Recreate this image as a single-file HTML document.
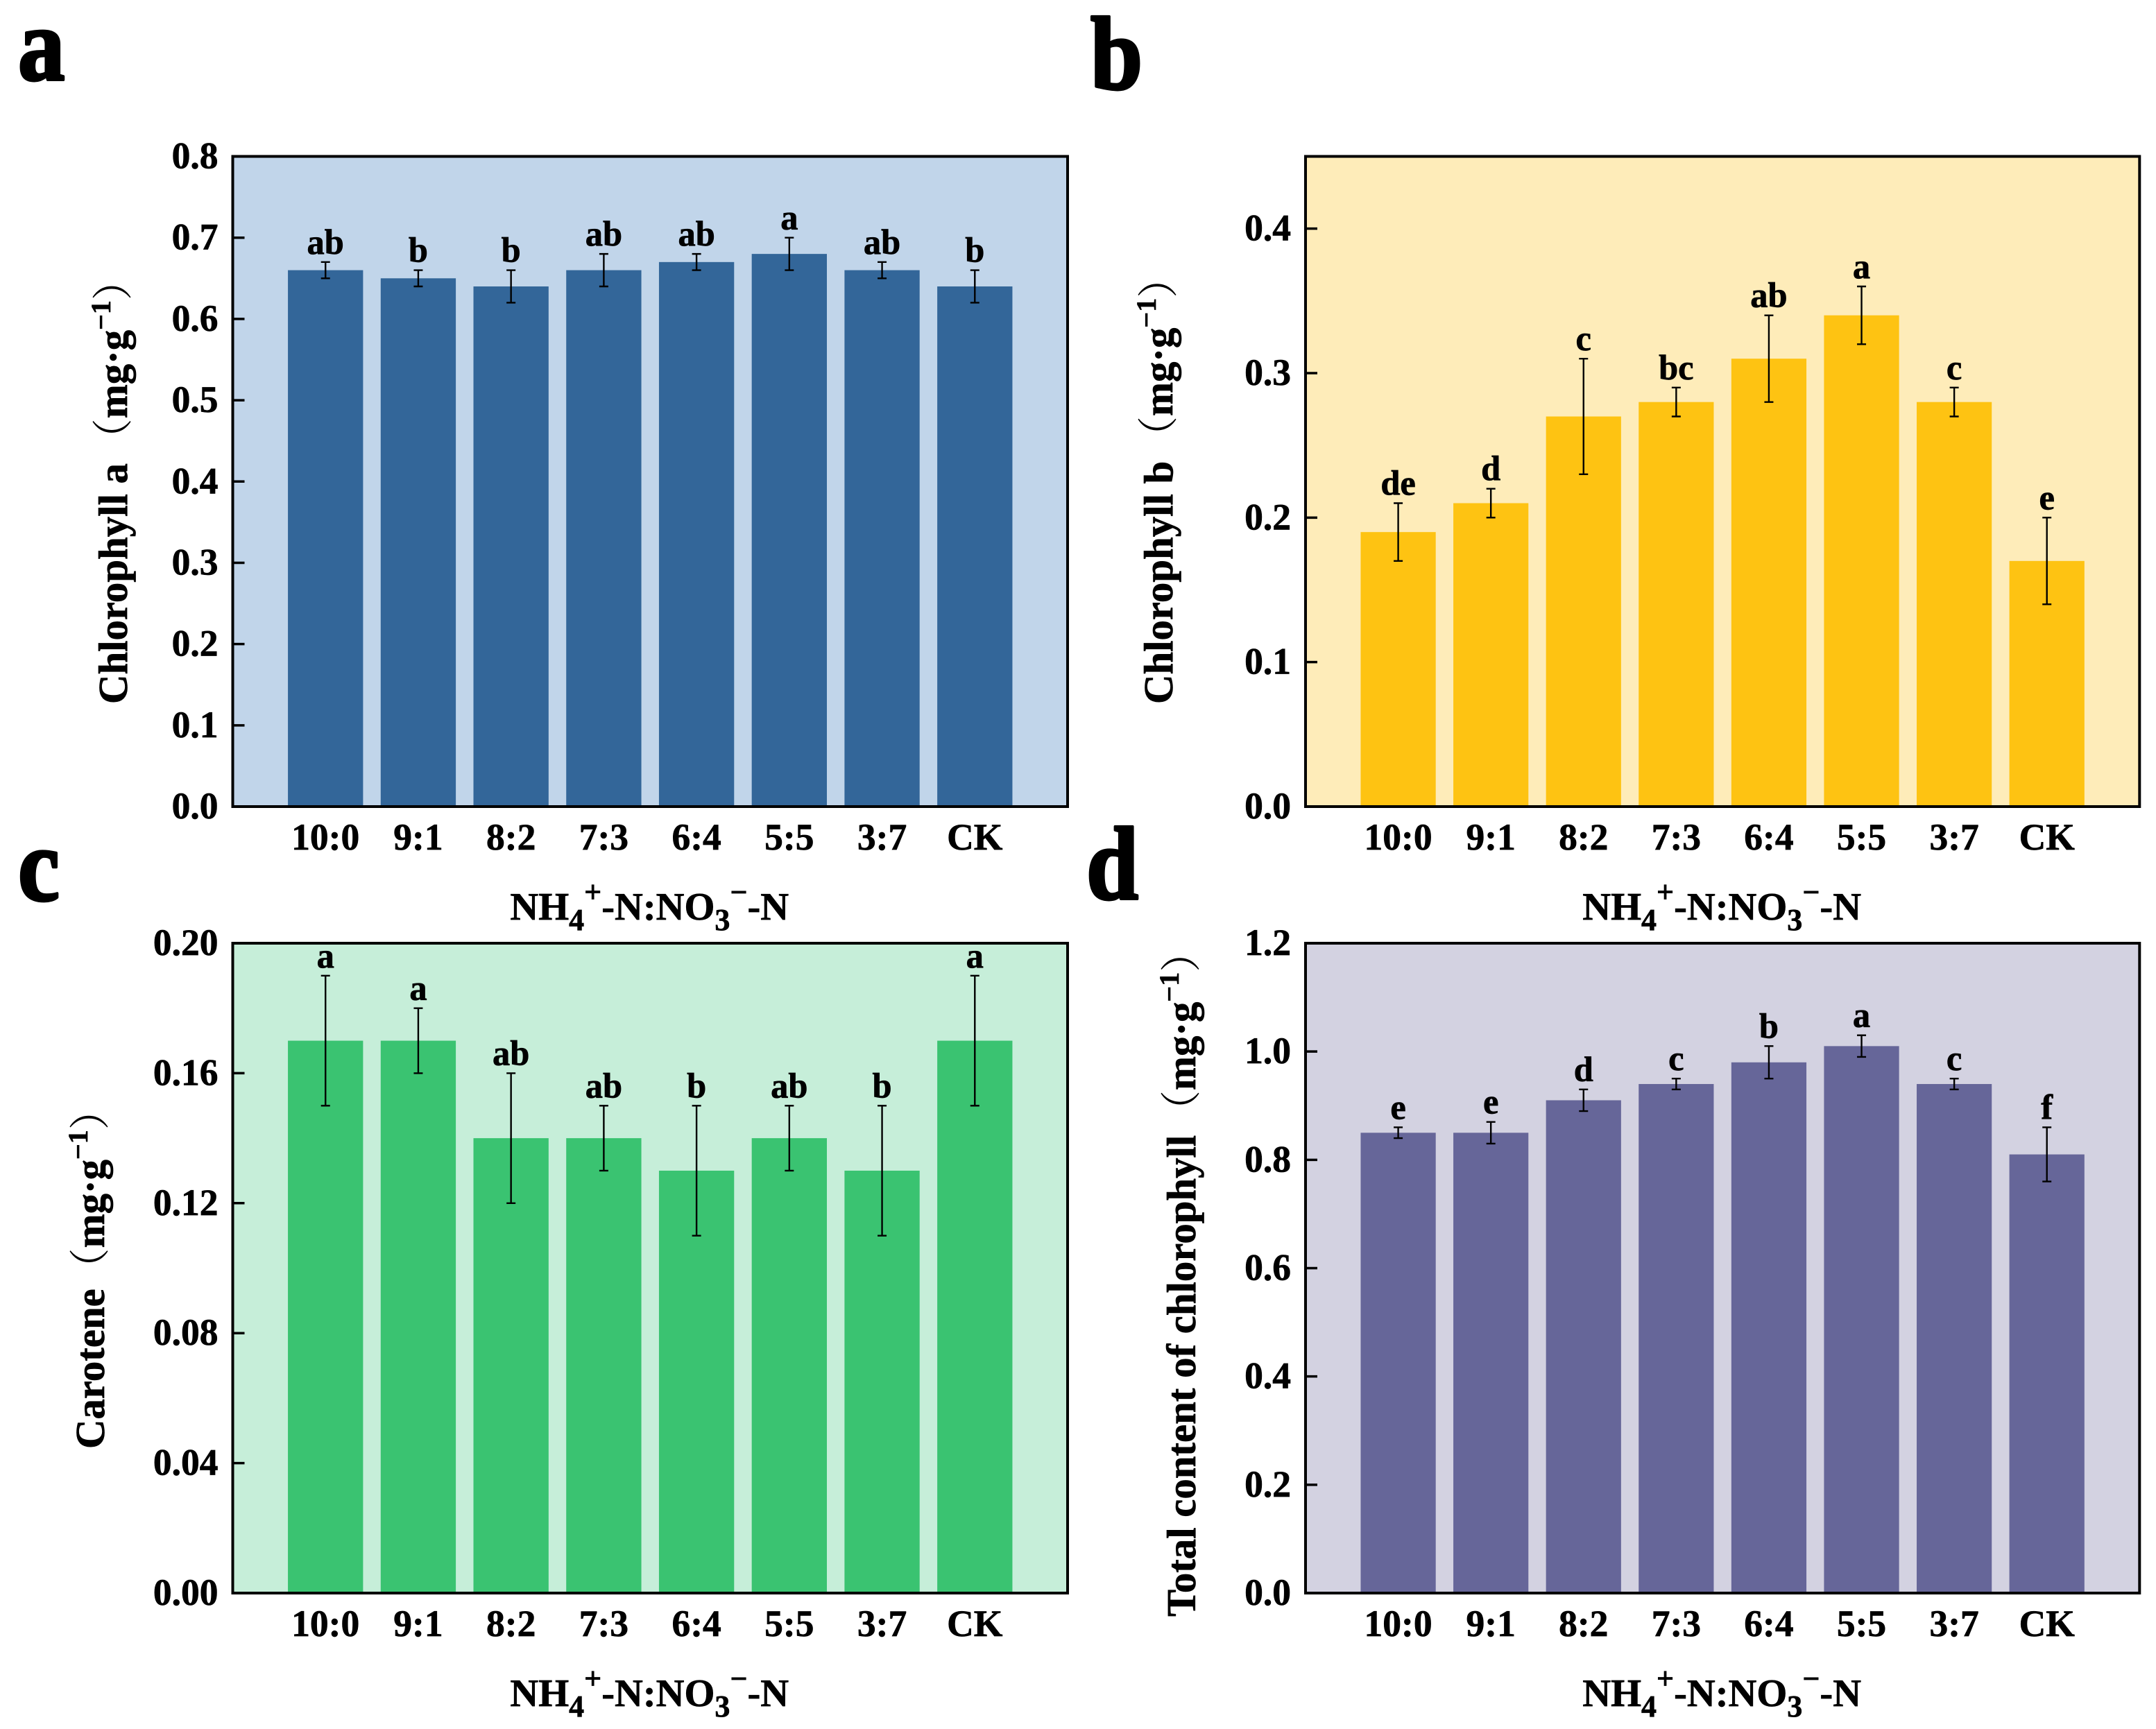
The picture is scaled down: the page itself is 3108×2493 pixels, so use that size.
<!DOCTYPE html>
<html lang="en">
<head>
<meta charset="utf-8">
<title>Chlorophyll and carotene content by NH4+-N:NO3--N ratio</title>
<style>
html,body{margin:0;padding:0;background:#fff;}
svg{display:block;}
text{font-family:"Liberation Serif","Noto Serif CJK SC",serif;font-weight:bold;fill:#000;stroke:#000;stroke-width:0.7px;}
tspan.paren{stroke:none;font-weight:normal;}
text.panel-mark{stroke-width:4px;stroke-linejoin:round;}
</style>
</head>
<body>
<svg id="figure" xmlns="http://www.w3.org/2000/svg" width="3108" height="2493" viewBox="0 0 3108 2493"></svg>
<script>
const categories = ["10:0","9:1","8:2","7:3","6:4","5:5","3:7","CK"];

const valuesA = [0.66,0.65,0.64,0.66,0.67,0.68,0.66,0.64];
const errorsA = [0.01,0.01,0.02,0.02,0.01,0.02,0.01,0.02];
const lettersA = ["ab","b","b","ab","ab","a","ab","b"];
const ticksA = ["0.0","0.1","0.2","0.3","0.4","0.5","0.6","0.7","0.8"];

const valuesB = [0.19,0.21,0.27,0.28,0.31,0.34,0.28,0.17];
const errorsB = [0.02,0.01,0.04,0.01,0.03,0.02,0.01,0.03];
const lettersB = ["de","d","c","bc","ab","a","c","e"];
const ticksB = ["0.0","0.1","0.2","0.3","0.4"];

const valuesC = [0.17,0.17,0.14,0.14,0.13,0.14,0.13,0.17];
const errorsC = [0.02,0.01,0.02,0.01,0.02,0.01,0.02,0.02];
const lettersC = ["a","a","ab","ab","b","ab","b","a"];
const ticksC = ["0.00","0.04","0.08","0.12","0.16","0.20"];

const valuesD = [0.85,0.85,0.91,0.94,0.98,1.01,0.94,0.81];
const errorsD = [0.01,0.02,0.02,0.01,0.03,0.02,0.01,0.05];
const lettersD = ["e","e","d","c","b","a","c","f"];
const ticksD = ["0.0","0.2","0.4","0.6","0.8","1.0","1.2"];

const svg = document.getElementById("figure");
const NS = "http://www.w3.org/2000/svg";

function mk(tag, parent, attrs) {
  const el = document.createElementNS(NS, tag);
  for (const k in attrs) el.setAttribute(k, attrs[k]);
  parent.appendChild(el);
  return el;
}

function span(parent, content, attrs) {
  const t = mk("tspan", parent, attrs || {});
  t.textContent = content;
  return t;
}

function drawPanel(p) {
  const g = mk("g", svg, {});
  
  

  const W = p.right - p.left, H = p.bottom - p.top;
  const xScale = i => p.left + W * (i + 1) / 9;
  const yScale = v => p.bottom - H * v / p.yMax;
  const barW = W * 0.81 / 9;

  const bg = mk("rect", g, {x:p.left, y:p.top, width:W, height:H, fill:p.bg});
  
  

  p.values.forEach((v, i) => {
    const cx = xScale(i);
    const bar = mk("rect", g, {x:cx - barW/2, y:yScale(v), width:barW, height:p.bottom - yScale(v), fill:p.bar});
    
    

    const hi = yScale(v + p.errors[i]), lo = yScale(v - p.errors[i]);
    const err = mk("path", g, {
      d:`M${cx} ${hi}V${lo}M${cx-6.5} ${hi}H${cx+6.5}M${cx-6.5} ${lo}H${cx+6.5}`,
      fill:"none", stroke:"#000", "stroke-width":2.4
    });
    
    

    const sig = mk("text", g, {x:cx, y:hi - 12, "text-anchor":"middle", "font-size":50.5});
    sig.textContent = p.letters[i];
    
    

    const cat = mk("text", g, {x:cx, y:p.bottom + 62, "text-anchor":"middle", "font-size":53.5});
    cat.textContent = categories[i];
    
    
  });

  p.ticks.forEach(label => {
    const y = yScale(parseFloat(label));
    const tick = mk("line", g, {x1:p.left, x2:p.left + 17, y1:y, y2:y, stroke:"#000", "stroke-width":3.5});
    
    

    const lab = mk("text", g, {x:p.left - 21, y:y + 17, "text-anchor":"end", "font-size":53.5});
    lab.textContent = label;
    
    
  });

  const frame = mk("rect", g, {x:p.left, y:p.top, width:W, height:H, fill:"none", stroke:"#000", "stroke-width":4});
  
  

  const xt = mk("text", g, {x:(p.left + p.right)/2 - 1, y:p.bottom + 163, "text-anchor":"middle", "font-size":56.5});
  
  
  span(xt, "NH");
  span(xt, "4", {"font-size":44, dy:15});
  span(xt, "+", {"font-size":44, dy:-40});
  span(xt, "-N:NO", {dy:25});
  span(xt, "3", {"font-size":44, dy:15});
  span(xt, "\u2212", {"font-size":44, dy:-40});
  span(xt, "-N", {dy:25});

  const yt = mk("text", g, {transform:`translate(${p.titleX} ${p.titleY}) rotate(-90)`, x:0, y:0, "font-size":58.8});
  
  
  span(yt, p.title);
  span(yt, "\uFF08", {"class":"paren", dx:p.parenGap});
  span(yt, "mg\u00B7g");
  span(yt, "\u22121", {"font-size":40, dy:-24});
  span(yt, "\uFF09", {"class":"paren", dy:24});

  const pl = mk("text", g, {"class":"panel-mark", transform:`translate(${p.letterX} ${p.letterY}) scale(0.9 1)`, x:0, y:0, "font-size":150});
  pl.textContent = p.id;
  
  
}

drawPanel({id:"a", left:335.5, right:1539, top:225.5, bottom:1163, yMax:0.8,
  bg:"#c1d5ea", bar:"#336699", values:valuesA, errors:errorsA, letters:lettersA, ticks:ticksA,
  title:"Chlorophyll a", parenGap:6, titleX:183, titleY:1015, letterX:26, letterY:115});
drawPanel({id:"b", left:1882, right:3084.3, top:225.5, bottom:1163, yMax:0.45,
  bg:"#feecb9", bar:"#fec312", values:valuesB, errors:errorsB, letters:lettersB, ticks:ticksB,
  title:"Chlorophyll b", parenGap:6, titleX:1690, titleY:1015, letterX:1572, letterY:128});
drawPanel({id:"c", left:335.5, right:1539, top:1360, bottom:2297, yMax:0.2,
  bg:"#c6eed9", bar:"#3ac371", values:valuesC, errors:errorsC, letters:lettersC, ticks:ticksC,
  title:"Carotene", parenGap:0, titleX:150, titleY:2089, letterX:26, letterY:1298});
drawPanel({id:"d", left:1882, right:3084.3, top:1360, bottom:2297, yMax:1.2,
  bg:"#d3d2e1", bar:"#666699", values:valuesD, errors:errorsD, letters:lettersD, ticks:ticksD,
  title:"Total content of chlorophyll", parenGap:6, titleX:1723, titleY:2331, letterX:1566, letterY:1296});
</script>
</body>
</html>
